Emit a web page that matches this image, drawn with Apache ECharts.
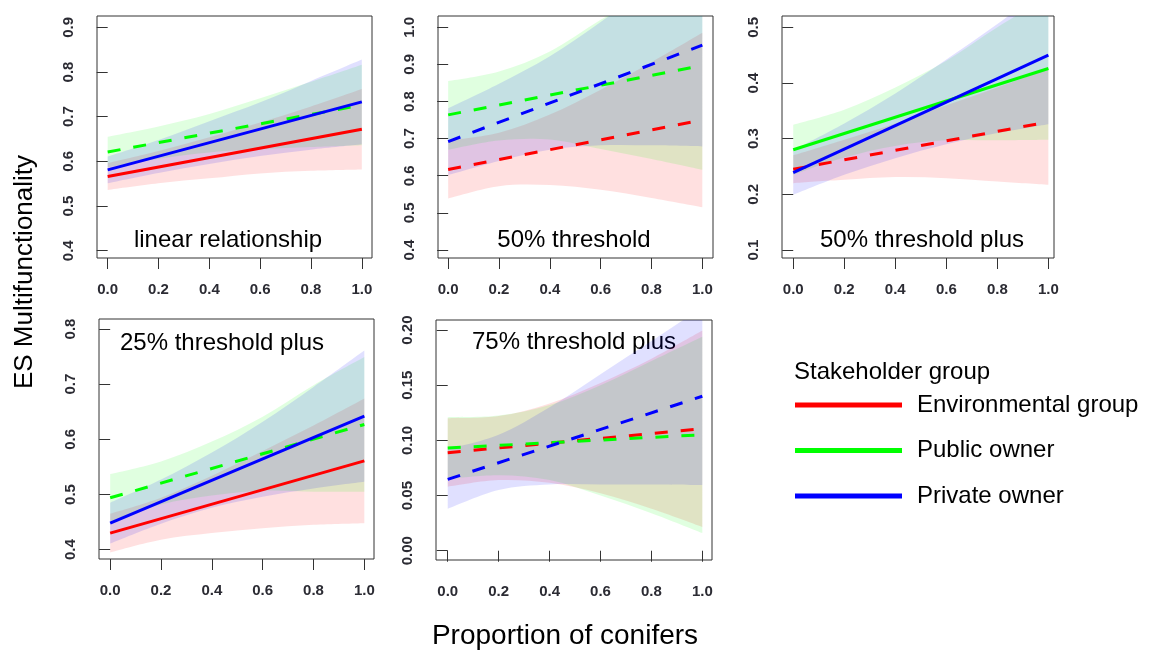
<!DOCTYPE html>
<html>
<head>
<meta charset="utf-8">
<title>ES Multifunctionality</title>
<script src="https://cdn.jsdelivr.net/npm/echarts@6/dist/echarts.min.js"></script>
<style>
html, body {margin: 0; padding: 0; background: #fff;}
#main {width: 1151px; height: 651px;}
</style>
</head>
<body>
<div id="main"></div>
<script>
// groups
const groupNames = ['Environmental group', 'Public owner', 'Private owner'];

// x positions: fitted lines are straight, so only the ends are read;
// confidence bands are read at these six points
const fitX = [0, 1];
const bandX = [0, 0.2, 0.4, 0.6, 0.8, 1.0];

// tick labels
const xTicks = [0, 0.2, 0.4, 0.6, 0.8, 1.0];
const p1Ticks = [0.4, 0.5, 0.6, 0.7, 0.8, 0.9];
const p2Ticks = [0.4, 0.5, 0.6, 0.7, 0.8, 0.9, 1.0];
const p3Ticks = [0.1, 0.2, 0.3, 0.4, 0.5];
const p4Ticks = [0.4, 0.5, 0.6, 0.7, 0.8];
const p5Ticks = [0, 0.05, 0.10, 0.15, 0.20];

// linear relationship
const p1RedFit = [0.566, 0.672];
const p1RedLo = [0.536, 0.551, 0.562, 0.573, 0.579, 0.582];
const p1RedHi = [0.596, 0.623, 0.654, 0.687, 0.723, 0.762];
const p1GreenFit = [0.621, 0.726];
const p1GreenLo = [0.587, 0.606, 0.620, 0.627, 0.632, 0.636];
const p1GreenHi = [0.655, 0.678, 0.706, 0.741, 0.778, 0.816];
const p1BlueFit = [0.581, 0.733];
const p1BlueLo = [0.551, 0.574, 0.594, 0.612, 0.626, 0.638];
const p1BlueHi = [0.611, 0.648, 0.690, 0.732, 0.780, 0.828];

// 50% threshold
const p2RedFit = [0.617, 0.750];
const p2RedLo = [0.539, 0.572, 0.575, 0.562, 0.540, 0.515];
const p2RedHi = [0.695, 0.716, 0.765, 0.832, 0.906, 0.985];
const p2GreenFit = [0.764, 0.897];
const p2GreenLo = [0.670, 0.695, 0.698, 0.672, 0.645, 0.616];
const p2GreenHi = [0.855, 0.881, 0.935, 1.020, 1.100, 1.178];
const p2BlueFit = [0.692, 0.952];
const p2BlueLo = [0.602, 0.640, 0.670, 0.682, 0.682, 0.679];
const p2BlueHi = [0.782, 0.848, 0.922, 1.014, 1.118, 1.225];

// 50% threshold plus
const p3RedFit = [0.245, 0.330];
const p3RedLo = [0.220, 0.226, 0.231, 0.229, 0.223, 0.217];
const p3RedHi = [0.270, 0.298, 0.327, 0.360, 0.392, 0.425];
const p3GreenFit = [0.280, 0.426];
const p3GreenLo = [0.235, 0.266, 0.287, 0.297, 0.297, 0.298];
const p3GreenHi = [0.325, 0.352, 0.392, 0.440, 0.500, 0.556];
const p3BlueFit = [0.239, 0.450];
const p3BlueLo = [0.199, 0.235, 0.265, 0.290, 0.310, 0.326];
const p3BlueHi = [0.279, 0.327, 0.381, 0.442, 0.506, 0.574];

// 25% threshold plus
const p4RedFit = [0.430, 0.561];
const p4RedLo = [0.395, 0.418, 0.430, 0.439, 0.445, 0.448];
const p4RedHi = [0.465, 0.494, 0.534, 0.579, 0.625, 0.674];
const p4GreenFit = [0.494, 0.627];
const p4GreenLo = [0.451, 0.482, 0.498, 0.507, 0.505, 0.505];
const p4GreenHi = [0.537, 0.560, 0.596, 0.641, 0.698, 0.749];
const p4BlueFit = [0.448, 0.642];
const p4BlueLo = [0.411, 0.447, 0.476, 0.496, 0.511, 0.523];
const p4BlueHi = [0.485, 0.527, 0.576, 0.632, 0.695, 0.761];

// 75% threshold plus
const p5RedFit = [0.0888, 0.1105];
const p5RedLo = [0.058, 0.064, 0.0615, 0.052, 0.038, 0.0215];
const p5RedHi = [0.120, 0.122, 0.1335, 0.152, 0.174, 0.1995];
const p5GreenFit = [0.0931, 0.1051];
const p5GreenLo = [0.065, 0.0685, 0.064, 0.050, 0.034, 0.016];
const p5GreenHi = [0.121, 0.1225, 0.132, 0.150, 0.172, 0.194];
const p5BlueFit = [0.0647, 0.1400];
const p5BlueLo = [0.038, 0.055, 0.060, 0.060, 0.060, 0.0595];
const p5BlueHi = [0.092, 0.105, 0.130, 0.160, 0.190, 0.2205];

const lineColors = ['#ff0000', '#00ff00', '#0000ff'];
const bandColors = ['rgba(255,0,0,0.12)', 'rgba(0,255,0,0.12)', 'rgba(0,0,255,0.12)'];
const FONT = '"Liberation Sans", Arial, Helvetica, sans-serif';

const panels = [
	{
		label: 'linear relationship', labelAt: [228, 240],
		grid: {left: 97, top: 16, width: 275, height: 242},
		xRange: [-0.042, 1.04], yRange: [0.3837, 0.9253], yTicks: p1Ticks, dec: 1,
		groups: [
			{fit: p1RedFit, lo: p1RedLo, hi: p1RedHi, dashed: false},
			{fit: p1GreenFit, lo: p1GreenLo, hi: p1GreenHi, dashed: true},
			{fit: p1BlueFit, lo: p1BlueLo, hi: p1BlueHi, dashed: false}
		]
	},
	{
		label: '50% threshold', labelAt: [574, 240],
		grid: {left: 438, top: 16, width: 275, height: 242},
		xRange: [-0.04, 1.042], yRange: [0.3784, 1.0304], yTicks: p2Ticks, dec: 1,
		groups: [
			{fit: p2RedFit, lo: p2RedLo, hi: p2RedHi, dashed: true},
			{fit: p2GreenFit, lo: p2GreenLo, hi: p2GreenHi, dashed: true},
			{fit: p2BlueFit, lo: p2BlueLo, hi: p2BlueHi, dashed: true}
		]
	},
	{
		label: '50% threshold plus', labelAt: [922, 240],
		grid: {left: 782, top: 16, width: 272, height: 242},
		xRange: [-0.044, 1.022], yRange: [0.0856, 0.5203], yTicks: p3Ticks, dec: 1,
		groups: [
			{fit: p3RedFit, lo: p3RedLo, hi: p3RedHi, dashed: true},
			{fit: p3GreenFit, lo: p3GreenLo, hi: p3GreenHi, dashed: false},
			{fit: p3BlueFit, lo: p3BlueLo, hi: p3BlueHi, dashed: false}
		]
	},
	{
		label: '25% threshold plus', labelAt: [222, 343],
		grid: {left: 99, top: 319, width: 275, height: 240},
		xRange: [-0.044, 1.038], yRange: [0.3831, 0.8181], yTicks: p4Ticks, dec: 1,
		groups: [
			{fit: p4RedFit, lo: p4RedLo, hi: p4RedHi, dashed: false},
			{fit: p4GreenFit, lo: p4GreenLo, hi: p4GreenHi, dashed: true},
			{fit: p4BlueFit, lo: p4BlueLo, hi: p4BlueHi, dashed: false}
		]
	},
	{
		label: '75% threshold plus', labelAt: [574, 342],
		grid: {left: 436, top: 320, width: 276, height: 240},
		xRange: [-0.046, 1.038], yRange: [-0.0084, 0.2091], yTicks: p5Ticks, dec: 2,
		groups: [
			{fit: p5RedFit, lo: p5RedLo, hi: p5RedHi, dashed: true},
			{fit: p5GreenFit, lo: p5GreenLo, hi: p5GreenHi, dashed: true},
			{fit: p5BlueFit, lo: p5BlueLo, hi: p5BlueHi, dashed: true}
		]
	}
];

// smooth curve through pixel points (catmull-rom as cubic beziers)
function curveTo(pts) {
	let d = '';
	for (let i = 0; i < pts.length - 1; i++) {
		const p0 = pts[Math.max(i - 1, 0)], p1 = pts[i], p2 = pts[i + 1], p3 = pts[Math.min(i + 2, pts.length - 1)];
		const c1 = [p1[0] + (p2[0] - p0[0]) / 6, p1[1] + (p2[1] - p0[1]) / 6];
		const c2 = [p2[0] - (p3[0] - p1[0]) / 6, p2[1] - (p3[1] - p1[1]) / 6];
		d += ' C' + c1[0] + ',' + c1[1] + ' ' + c2[0] + ',' + c2[1] + ' ' + p2[0] + ',' + p2[1];
	}
	return d;
}

function renderBand(color) {
	return function (params, api) {
		if (params.dataIndexInside !== 0) return null;
		const n = params.dataInsideLength;
		const top = [], bottom = [];
		for (let i = 0; i < n; i++) {
			top.push(api.coord([api.value(0, i), api.value(2, i)]));
			bottom.push(api.coord([api.value(0, i), api.value(1, i)]));
		}
		bottom.reverse();
		const d = 'M' + top[0][0] + ',' + top[0][1] + curveTo(top) +
			' L' + bottom[0][0] + ',' + bottom[0][1] + curveTo(bottom) + ' Z';
		return {type: 'path', shape: {pathData: d}, style: {fill: color, stroke: null}};
	};
}

const grids = [], xAxes = [], yAxes = [], series = [], graphics = [];

panels.forEach((p, idx) => {
	grids.push(Object.assign({show: true, borderColor: '#333', borderWidth: 1, backgroundColor: 'transparent'}, p.grid));

	xAxes.push({
		type: 'value', gridIndex: idx, min: p.xRange[0], max: p.xRange[1],
		axisLine: {show: false}, splitLine: {show: false},
		axisTick: {show: true, customValues: xTicks, length: 11, lineStyle: {color: '#333'}},
		axisLabel: {customValues: xTicks, formatter: v => v.toFixed(1), fontSize: 15, fontWeight: 'bold', color: '#2b2b33', margin: 24, fontFamily: FONT}
	});
	yAxes.push({
		type: 'value', gridIndex: idx, min: p.yRange[0], max: p.yRange[1],
		axisLine: {show: false}, splitLine: {show: false},
		axisTick: {show: true, customValues: p.yTicks, length: 11, lineStyle: {color: '#333'}},
		axisLabel: {customValues: p.yTicks, formatter: v => v.toFixed(p.dec), rotate: 90, fontSize: 15, fontWeight: 'bold', color: '#2b2b33', margin: 21, fontFamily: FONT}
	});

	// confidence bands
	p.groups.forEach((g, k) => {
		series.push({
			type: 'custom', xAxisIndex: idx, yAxisIndex: idx, silent: true, clip: true,
			data: bandX.map((x, i) => [x, g.lo[i], g.hi[i]]),
			encode: {x: 0, y: [1, 2]},
			renderItem: renderBand(bandColors[k]),
			z: 1
		});
	});

	// fitted lines
	p.groups.forEach((g, k) => {
		series.push({
			type: 'line', name: groupNames[k], xAxisIndex: idx, yAxisIndex: idx, silent: true,
			data: fitX.map((x, i) => [x, g.fit[i]]),
			symbol: 'none',
			itemStyle: {color: lineColors[k]},
			lineStyle: {color: lineColors[k], width: 3, type: g.dashed ? [13, 13] : 'solid', cap: 'butt'},
			z: 3
		});
	});

	graphics.push({
		type: 'text', x: p.labelAt[0], y: p.labelAt[1],
		style: {text: p.label, fill: '#000', font: '24px ' + FONT, textAlign: 'center', textVerticalAlign: 'middle'}
	});
});

graphics.push({
	type: 'text', x: 25, y: 272, rotation: Math.PI / 2,
	style: {text: 'ES Multifunctionality', fill: '#000', font: '26px ' + FONT, textAlign: 'center', textVerticalAlign: 'middle'}
});
graphics.push({
	type: 'text', x: 565, y: 636,
	style: {text: 'Proportion of conifers', fill: '#000', font: '28px ' + FONT, textAlign: 'center', textVerticalAlign: 'middle'}
});
graphics.push({
	type: 'text', x: 794, y: 372,
	style: {text: 'Stakeholder group', fill: '#000', font: '24px ' + FONT, textAlign: 'left', textVerticalAlign: 'middle'}
});

const myChart = echarts.init(document.getElementById('main'));
myChart.setOption({
	animation: false,
	backgroundColor: '#fff',
	grid: grids,
	xAxis: xAxes,
	yAxis: yAxes,
	legend: {
		data: groupNames, orient: 'vertical', left: 790, top: 387,
		icon: 'rect', itemWidth: 107, itemHeight: 5, itemGap: 19.5,
		selectedMode: false,
		textStyle: {fontSize: 24, lineHeight: 26, color: '#000', fontFamily: FONT, padding: [0, 0, 0, 10]}
	},
	graphic: graphics,
	series: series
});
</script>
</body>
</html>
